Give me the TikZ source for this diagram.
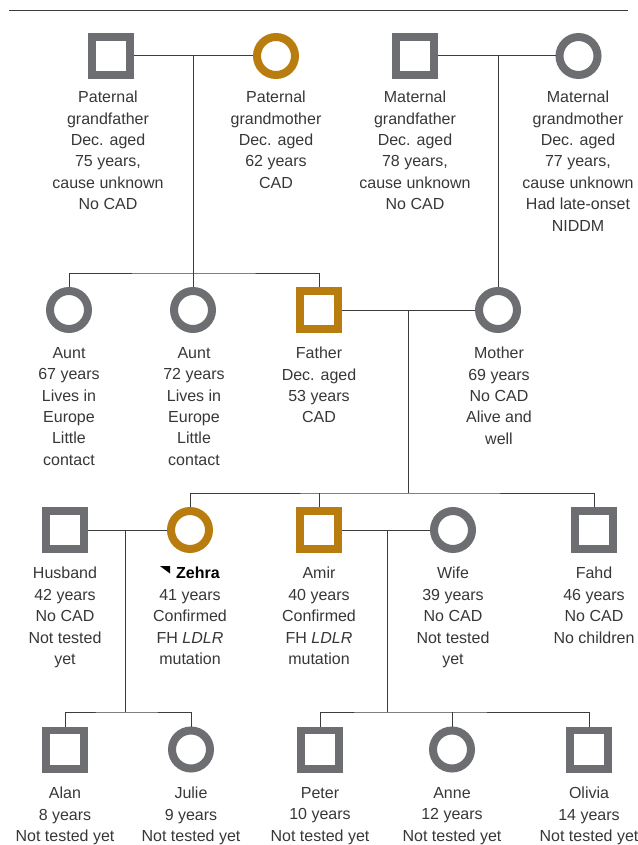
\documentclass[tikz,border=0pt]{standalone}
\usepackage{fontspec}
\setmainfont{Liberation Sans}
\definecolor{symgray}{RGB}{109,110,113}
\definecolor{symgold}{RGB}{185,124,14}
\definecolor{txt}{RGB}{55,55,55}
\definecolor{lin}{RGB}{60,60,60}
\begin{document}
\begin{tikzpicture}[x=1pt,y=-1pt,
  male/.style={draw=#1, line width=7.7pt, minimum size=38.3pt, inner sep=0pt, rectangle},
  male/.default=symgray,
  female/.style={draw=#1, line width=8pt, minimum size=38pt, inner sep=0pt, circle},
  female/.default=symgray,
  lbl/.style={anchor=north, align=center, inner sep=0pt, text=txt, font=\fontsize{16}{21.4}\selectfont},
  conn/.style={draw=lin, line width=1pt}]
\useasboundingbox (0,0) rectangle (637,845);

% top rule
\coordinate (r1) at (9,10.7);
\coordinate (r2) at (628,10.7);
\draw[conn] (r1) -- (r2);

% generation 1
\node[male] (pgf) at (111,56) {};
\node[female=symgold] (pgm) at (276,56) {};
\node[male] (mgf) at (415,56) {};
\node[female] (mgm) at (578.5,56) {};
\node[lbl] (lpgf) at (108,91) {Paternal\\grandfather\\Dec. aged\\75 years,\\cause unknown\\No CAD};
\node[lbl] (lpgm) at (276,91) {Paternal\\grandmother\\Dec. aged\\62 years\\CAD};
\node[lbl] (lmgf) at (415,91) {Maternal\\grandfather\\Dec. aged\\78 years,\\cause unknown\\No CAD};
\node[lbl] (lmgm) at (578,91) {Maternal\\grandmother\\Dec. aged\\77 years,\\cause unknown\\Had late-onset\\NIDDM};

% generation 2
\node[female] (aunt1) at (69,310) {};
\node[female] (aunt2) at (193,310) {};
\node[male=symgold] (father) at (319,310) {};
\node[female] (mother) at (498,310) {};
\node[lbl] (launt1) at (69,347) {Aunt\\67 years\\Lives in\\Europe\\Little\\contact};
\node[lbl] (launt2) at (194,347) {Aunt\\72 years\\Lives in\\Europe\\Little\\contact};
\node[lbl] (lfather) at (319,347) {Father\\Dec. aged\\53 years\\CAD};
\node[lbl] (lmother) at (499,347) {Mother\\69 years\\No CAD\\Alive and\\well};

% generation 3
\node[male] (husband) at (65,530) {};
\node[female=symgold] (zehra) at (190,530) {};
\node[male=symgold] (amir) at (319,530) {};
\node[female] (wife) at (453,530) {};
\node[male] (fahd) at (594,530) {};
\node[lbl] (lhusband) at (65,567) {Husband\\42 years\\No CAD\\Not tested\\yet};
\node[lbl] (lzehra) at (190,567) {\hspace*{16pt}\textcolor{black}{\textbf{Zehra}}\\41 years\\Confirmed\\FH \textit{LDLR}\\mutation};
\node[lbl] (lamir) at (319,567) {Amir\\40 years\\Confirmed\\FH \textit{LDLR}\\mutation};
\node[lbl] (lwife) at (453,567) {Wife\\39 years\\No CAD\\Not tested\\yet};
\node[lbl] (lfahd) at (594,567) {Fahd\\46 years\\No CAD\\No children};
\fill[black] ([shift={(-29.8,-0.8)}]lzehra.north) -- ++(10,0) -- ++(0,7.5) -- cycle;

% generation 4
\node[male] (alan) at (65,749.5) {};
\node[female] (julie) at (191,749.5) {};
\node[male] (peter) at (320,749.5) {};
\node[female] (anne) at (452,749.5) {};
\node[male] (olivia) at (589,749.5) {};
\node[lbl] (lalan) at (65,787) {Alan\\8 years\\Not tested yet};
\node[lbl] (ljulie) at (191,787) {Julie\\9 years\\Not tested yet};
\node[lbl] (lpeter) at (320,787) {Peter\\10 years\\Not tested yet};
\node[lbl] (lanne) at (452,787) {Anne\\12 years\\Not tested yet};
\node[lbl] (lolivia) at (589,787) {Olivia\\14 years\\Not tested yet};

% connectors
\coordinate (j1) at (193,56);
\coordinate (j1b) at (193,273);
\draw[conn] (pgf.east) -- (pgm.west);
\draw[conn] (j1) -- (aunt2.north);
\draw[conn] (aunt1.north) |- (j1b) -| (father.north);

\coordinate (j2) at (498,56);
\draw[conn] (mgf.east) -- (mgm.west);
\draw[conn] (j2) -- (mother.north);

\coordinate (j3) at (408,310);
\coordinate (j3b) at (408,493);
\draw[conn] (father.east) -- (mother.west);
\draw[conn] (j3) -- (j3b);
\draw[conn] (zehra.north) |- (j3b) -| (fahd.north);
\draw[conn] (amir.north) -- (amir.north |- j3b);

\coordinate (j4) at (125,530);
\coordinate (j4b) at (125,712);
\draw[conn] (husband.east) -- (zehra.west);
\draw[conn] (j4) -- (j4b);
\draw[conn] (alan.north) |- (j4b) -| (julie.north);

\coordinate (j5) at (387,530);
\coordinate (j5b) at (387,712);
\draw[conn] (amir.east) -- (wife.west);
\draw[conn] (j5) -- (j5b);
\draw[conn] (peter.north) |- (j5b) -| (olivia.north);
\draw[conn] (anne.north) -- (anne.north |- j5b);
\end{tikzpicture}
\end{document}
